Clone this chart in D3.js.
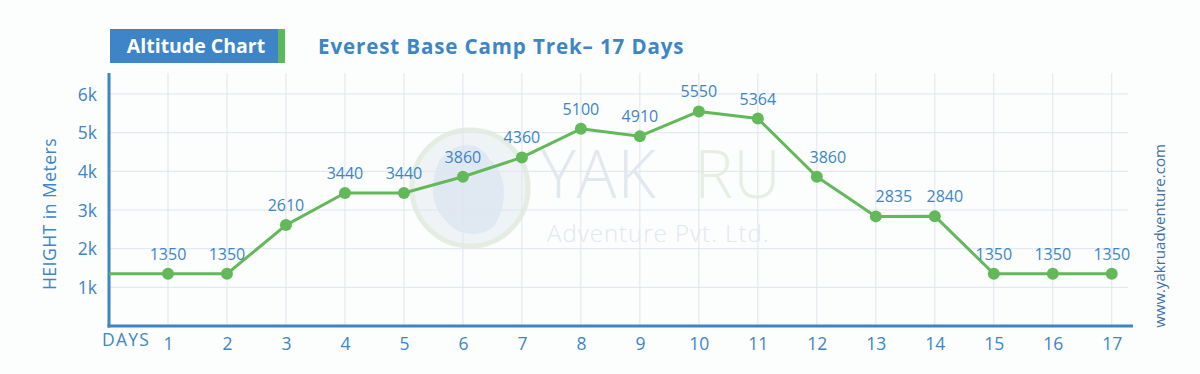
<!DOCTYPE html>
<html><head><meta charset="utf-8">
<script src="https://cdn.jsdelivr.net/npm/d3@7"></script>
<style>
html,body{margin:0;padding:0;background:#fcfdfd;}
svg{display:block;}
text{font-family:"Open Sans",Lato,sans-serif;}
</style></head>
<body>
<svg id="c" width="1200" height="374"></svg>
<script>
const days = [1,2,3,4,5,6,7,8,9,10,11,12,13,14,15,16,17];
const heights = [1350,1350,2610,3440,3440,3860,4360,5100,4910,5550,5364,3860,2835,2840,1350,1350,1350];
const yTicks = [1000,2000,3000,4000,5000,6000];
const yTickLabels = ["1k","2k","3k","4k","5k","6k"];
const title = "Everest Base Camp Trek– 17 Days";
const badge = "Altitude Chart";
const yTitle = "HEIGHT in Meters";
const xTitle = "DAYS";
const site = "www.yakruadventure.com";

// label nudges (layout only)
const labelDx = {12: 11, 13: 18, 14: 10};

const blue = "#3d85c6", green = "#63b95a", grid = "#dfe5ee";
const svg = d3.select("#c");

const x = d3.scaleLinear().domain([0, 17.36]).range([109, 1133]);
const y = d3.scaleLinear().domain([0, 6000]).range([326, 94]);
const plotTop = 73;

// header
svg.append("rect").attr("x",110).attr("y",29).attr("width",168).attr("height",34).attr("fill",blue);
svg.append("rect").attr("x",278).attr("y",29).attr("width",7).attr("height",34).attr("fill","#5cb85c");
svg.append("text").attr("x",196).attr("y",53).attr("text-anchor","middle").attr("fill","#fff")
  .attr("font-size",19.5).attr("font-weight","bold").text(badge);
svg.append("text").attr("x",318).attr("y",53.5).attr("fill",blue)
  .attr("font-size",20.5).attr("font-weight","bold").attr("letter-spacing",0.9).text(title);

// watermark
const wm = svg.append("g").attr("opacity",0.9);
wm.append("circle").attr("cx",470).attr("cy",188).attr("r",58).attr("fill","#eef3f6").attr("stroke","#e3ece0").attr("stroke-width",5);
wm.append("path").attr("d","M440,160 C455,140 480,140 490,160 C505,170 510,200 495,225 C480,240 455,235 445,220 C430,205 430,180 440,160Z").attr("fill","#dde7f1");
wm.append("text").attr("x",541).attr("y",198).attr("font-size",66).attr("font-family","Lato").attr("font-weight",300).attr("letter-spacing",1).attr("fill","#dfe6ef").text("YAK");
wm.append("text").attr("x",694).attr("y",198).attr("font-size",66).attr("font-family","Lato").attr("font-weight",300).attr("fill","#e5eee0").text("RU");
wm.append("text").attr("x",547).attr("y",242).attr("font-size",24).attr("font-family","Lato").attr("font-weight",300).attr("letter-spacing",1).attr("fill","#dfe6ef").text("Adventure Pvt. Ltd.");

// grid
svg.append("g").selectAll("line").data(yTicks).join("line")
  .attr("x1",x(0)).attr("x2",1128).attr("y1",d=>y(d)).attr("y2",d=>y(d))
  .attr("stroke",grid).attr("stroke-width",1);
svg.append("g").selectAll("line").data(days).join("line")
  .attr("x1",d=>x(d)).attr("x2",d=>x(d)).attr("y1",plotTop).attr("y2",y(0))
  .attr("stroke",grid).attr("stroke-width",1);

// axes
const yAxis = d3.axisLeft(y).tickValues(yTicks).tickFormat((d,i)=>yTickLabels[i]).tickSize(0).tickPadding(12);
const ya = svg.append("g").attr("transform",`translate(${x(0)},0)`).call(yAxis);
ya.select(".domain").remove();
ya.selectAll("text").attr("fill",blue).attr("font-size",17.5).attr("font-family","Open Sans,sans-serif").attr("dy","0.35em");
const xAxis = d3.axisBottom(x).tickValues(days).tickFormat(d3.format("d")).tickSize(0).tickPadding(8);
const xa = svg.append("g").attr("transform",`translate(0,${y(0)})`).call(xAxis);
xa.select(".domain").remove();
xa.selectAll("text").attr("fill",blue).attr("font-size",17.5).attr("font-family","Open Sans,sans-serif").attr("dy","0.9em");

svg.append("line").attr("x1",x(0)).attr("x2",x(0)).attr("y1",plotTop).attr("y2",y(0)+1.5).attr("stroke",blue).attr("stroke-width",3);
svg.append("line").attr("x1",x(0)-1.5).attr("x2",1133).attr("y1",y(0)).attr("y2",y(0)).attr("stroke",blue).attr("stroke-width",3);

svg.append("text").attr("x",102).attr("y",346).attr("fill",blue).attr("font-size",17.5).attr("letter-spacing",1.2).text(xTitle);
svg.append("text").attr("transform","translate(56,214) rotate(-90)").attr("text-anchor","middle")
  .attr("fill",blue).attr("font-size",17.5).attr("letter-spacing",0.5).text(yTitle);
svg.append("text").attr("transform","translate(1165,236) rotate(-90)").attr("text-anchor","middle")
  .attr("fill","#3a6fa8").attr("font-size",15).text(site);

// line
const pts = days.map((d,i)=>({d, v:heights[i]}));
const linePts = [{d:0, v:heights[0]}].concat(pts);
const line = d3.line().x(p=>x(p.d)).y(p=>y(p.v));
svg.append("path").datum(linePts).attr("d",line).attr("fill","none").attr("stroke",green).attr("stroke-width",3).attr("stroke-linejoin","round");
svg.append("g").selectAll("circle").data(pts).join("circle")
  .attr("cx",p=>x(p.d)).attr("cy",p=>y(p.v)).attr("r",6).attr("fill",green);
svg.append("g").selectAll("text").data(pts).join("text")
  .attr("x",p=>x(p.d)+(labelDx[p.d]||0)).attr("y",p=>y(p.v)-14).attr("text-anchor","middle")
  .attr("fill",blue).attr("font-size",16).text(p=>p.v);
</script>
</body></html>
